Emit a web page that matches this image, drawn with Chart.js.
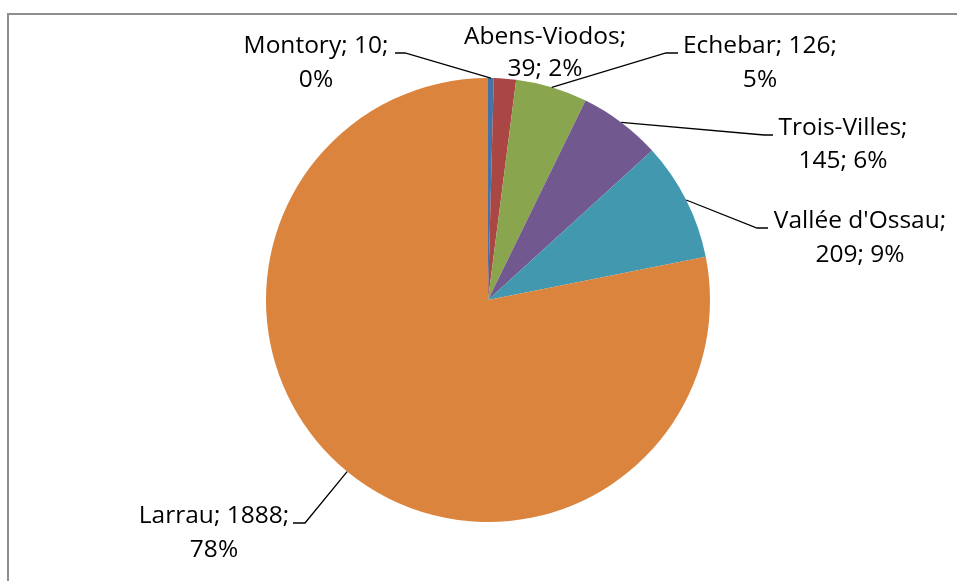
<!DOCTYPE html>
<html>
<head>
<meta charset="utf-8">
<script src="https://cdn.jsdelivr.net/npm/chart.js@4"></script>
<style>
    html, body { margin: 0; padding: 0; background: #fff; }
    #wrap { width: 957px; height: 581px; position: relative; }
</style>
</head>
<body>
<div id="wrap"><canvas id="pie"></canvas></div>
<script>
const communes = ['Montory', 'Abens-Viodos', 'Echebar', 'Trois-Villes', "Vallée d'Ossau", 'Larrau'];
const counts = [10, 39, 126, 145, 209, 1888];
const sliceColors = ['#4572A7', '#AA4643', '#89A54E', '#71588F', '#4198AF', '#DB843D'];

// where each label sits: text centre, two baselines, and the elbow of the leader line
const labelSpots = [
    { cx: 316, y1: 53, y2: 87, split: 'value', elbow: [405, 53], tail: [395, 53] },
    { cx: 545, y1: 44, y2: 76, split: 'name', elbow: null },
    { cx: 760, y1: 53, y2: 87, split: 'value', elbow: [666, 53], tail: [678, 53] },
    { cx: 843, y1: 135, y2: 168, split: 'name', elbow: [764, 135], tail: [773, 135] },
    { cx: 860, y1: 228, y2: 262, split: 'name', elbow: [757, 228], tail: [768, 228] },
    { cx: 214, y1: 523, y2: 557, split: 'value', elbow: [305, 523], tail: [293, 523] }
];

const total = counts.reduce((a, b) => a + b, 0);

const frameAndLabels = {
    id: 'frameAndLabels',
    beforeDraw(chart) {
        const ctx = chart.ctx;
        ctx.save();
        ctx.strokeStyle = '#8e8e8e';
        ctx.lineWidth = 2;
        ctx.beginPath();
        ctx.moveTo(8, 581);
        ctx.lineTo(8, 14);
        ctx.lineTo(957, 14);
        ctx.stroke();
        ctx.restore();
    },
    afterDraw(chart) {
        const ctx = chart.ctx;
        const arcs = chart.getDatasetMeta(0).data;
        ctx.save();
        ctx.font = '24.5px "Open Sans"';
        ctx.fillStyle = '#000';
        ctx.textAlign = 'center';
        ctx.textBaseline = 'alphabetic';
        ctx.strokeStyle = '#000';
        ctx.lineWidth = 1.3;
        arcs.forEach((arc, i) => {
            const spot = labelSpots[i];
            const pct = Math.round(counts[i] / total * 100) + '%';
            let line1, line2;
            if (spot.split === 'value') {
                line1 = communes[i] + '; ' + counts[i] + ';';
                line2 = pct;
            } else {
                line1 = communes[i] + ';';
                line2 = counts[i] + '; ' + pct;
            }
            ctx.fillText(line1, spot.cx, spot.y1);
            ctx.fillText(line2, spot.cx, spot.y2);
            if (spot.elbow) {
                const p = arc.getProps(['x', 'y', 'startAngle', 'endAngle', 'outerRadius'], true);
                const mid = (p.startAngle + p.endAngle) / 2;
                const sx = p.x + Math.cos(mid) * p.outerRadius;
                const sy = p.y + Math.sin(mid) * p.outerRadius;
                ctx.beginPath();
                ctx.moveTo(sx, sy);
                ctx.lineTo(spot.elbow[0], spot.elbow[1]);
                ctx.lineTo(spot.tail[0], spot.tail[1]);
                ctx.stroke();
            }
        });
        ctx.restore();
    }
};

new Chart(document.getElementById('pie'), {
    type: 'pie',
    data: {
        labels: communes,
        datasets: [{
            data: counts,
            backgroundColor: sliceColors,
            borderWidth: 0
        }]
    },
    options: {
        responsive: true,
        maintainAspectRatio: false,
        animation: false,
        layout: {
            padding: { top: 78, bottom: 59, left: 266, right: 247 }
        },
        plugins: {
            legend: { display: false },
            tooltip: { enabled: false }
        }
    },
    plugins: [frameAndLabels]
});
</script>
</body>
</html>
